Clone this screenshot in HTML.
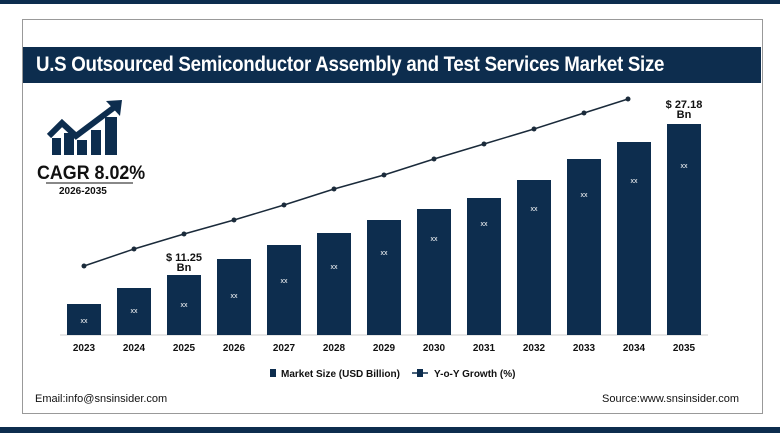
<!DOCTYPE html>
<html><head><style>
body{margin:0;width:780px;height:433px;background:#fff;position:relative;overflow:hidden;font-family:"Liberation Sans",sans-serif;}
.t{position:absolute;font-weight:bold;color:#111;white-space:nowrap;}
</style></head><body>
<div style="position:absolute;left:0;top:0;width:780px;height:4px;background:#0d2d4e"></div>
<div style="position:absolute;left:22px;top:19px;width:739px;height:393px;border:1px solid #999;"></div>
<div style="position:absolute;left:23px;top:47px;width:738px;height:36px;background:#0d2d4e;"></div>
<div class="t" style="left:36px;top:53px;font-size:21px;color:#fff;letter-spacing:-0.3px;transform:scaleX(0.89);transform-origin:0 0">U.S Outsourced Semiconductor Assembly and Test Services Market Size</div>
<div style="position:absolute;left:0;top:427px;width:780px;height:6px;background:#0d2d4e"></div>
<svg width="780" height="433" style="position:absolute;left:0;top:0">
<g fill="#0d2d4e">
<rect x="52" y="138" width="9" height="17"/><rect x="64" y="133" width="10" height="22"/><rect x="77" y="140" width="10" height="15"/><rect x="91" y="130" width="10" height="25"/><rect x="105" y="117" width="12" height="38"/>
<polyline points="49,136 62,123 76,136 116,106" fill="none" stroke="#0d2d4e" stroke-width="6" stroke-linejoin="miter"/>
<polygon points="106,101 122,100 120,116"/>
</g>
<line x1="46" y1="183" x2="133" y2="183" stroke="#111" stroke-width="1"/>
<line x1="60" y1="335" x2="708" y2="335" stroke="#ccc"/>
<g fill="#0d2d4e">
<rect x="67" y="304" width="34" height="31"/><rect x="117" y="288" width="34" height="47"/><rect x="167" y="275" width="34" height="60"/><rect x="217" y="259" width="34" height="76"/><rect x="267" y="245" width="34" height="90"/><rect x="317" y="233" width="34" height="102"/><rect x="367" y="220" width="34" height="115"/><rect x="417" y="209" width="34" height="126"/><rect x="467" y="198" width="34" height="137"/><rect x="517" y="180" width="34" height="155"/><rect x="567" y="159" width="34" height="176"/><rect x="617" y="142" width="34" height="193"/><rect x="667" y="124" width="34" height="211"/>
</g>
<g font-size="7" fill="#fff" text-anchor="middle" font-family="Liberation Sans">
<text x="84" y="323">xx</text><text x="134" y="313">xx</text><text x="184" y="307">xx</text><text x="234" y="298">xx</text><text x="284" y="283">xx</text><text x="334" y="269">xx</text><text x="384" y="255">xx</text><text x="434" y="241">xx</text><text x="484" y="226">xx</text><text x="534" y="211">xx</text><text x="584" y="197">xx</text><text x="634" y="183">xx</text><text x="684" y="168">xx</text>
</g>
<polyline fill="none" stroke="#1a2a3a" stroke-width="1.5" points="84,266 134,249 184,234 234,220 284,205 334,189 384,175 434,159 484,144 534,129 584,113 628,99"/>
<g fill="#1a2a3a">
<circle cx="84" cy="266" r="2.5"/><circle cx="134" cy="249" r="2.5"/><circle cx="184" cy="234" r="2.5"/><circle cx="234" cy="220" r="2.5"/><circle cx="284" cy="205" r="2.5"/><circle cx="334" cy="189" r="2.5"/><circle cx="384" cy="175" r="2.5"/><circle cx="434" cy="159" r="2.5"/><circle cx="484" cy="144" r="2.5"/><circle cx="534" cy="129" r="2.5"/><circle cx="584" cy="113" r="2.5"/><circle cx="628" cy="99" r="2.5"/>
</g>
<g font-size="10" font-weight="bold" fill="#111" text-anchor="middle" font-family="Liberation Sans">
<text x="84" y="351">2023</text><text x="134" y="351">2024</text><text x="184" y="351">2025</text><text x="234" y="351">2026</text><text x="284" y="351">2027</text><text x="334" y="351">2028</text><text x="384" y="351">2029</text><text x="434" y="351">2030</text><text x="484" y="351">2031</text><text x="534" y="351">2032</text><text x="584" y="351">2033</text><text x="634" y="351">2034</text><text x="684" y="351">2035</text>
<text x="184" y="261" font-size="11">$ 11.25</text><text x="184" y="271" font-size="11">Bn</text>
<text x="684" y="108" font-size="11">$ 27.18</text><text x="684" y="118" font-size="11">Bn</text>
</g>
<rect x="270" y="369" width="6" height="8" fill="#0d2d4e"/>
<line x1="412" y1="373" x2="428" y2="373" stroke="#0d2d4e" stroke-width="1.5"/>
<rect x="417" y="369" width="6" height="8" fill="#0d2d4e"/>
<g font-size="10" font-weight="bold" fill="#111" font-family="Liberation Sans">
<text x="281" y="377">Market Size (USD Billion)</text>
<text x="434" y="377">Y-o-Y Growth (%)</text>
</g>
</svg>
<div class="t" style="left:37px;top:163px;font-size:19px;transform:scaleX(0.94);transform-origin:0 0">CAGR 8.02%</div>
<div class="t" style="left:59px;top:186px;font-size:10px;">2026-2035</div>
<div style="position:absolute;left:35px;top:393px;font-size:11px;color:#111;">Email:info@snsinsider.com</div>
<div style="position:absolute;right:41px;top:393px;font-size:11px;color:#111;">Source:www.snsinsider.com</div>
</body></html>
